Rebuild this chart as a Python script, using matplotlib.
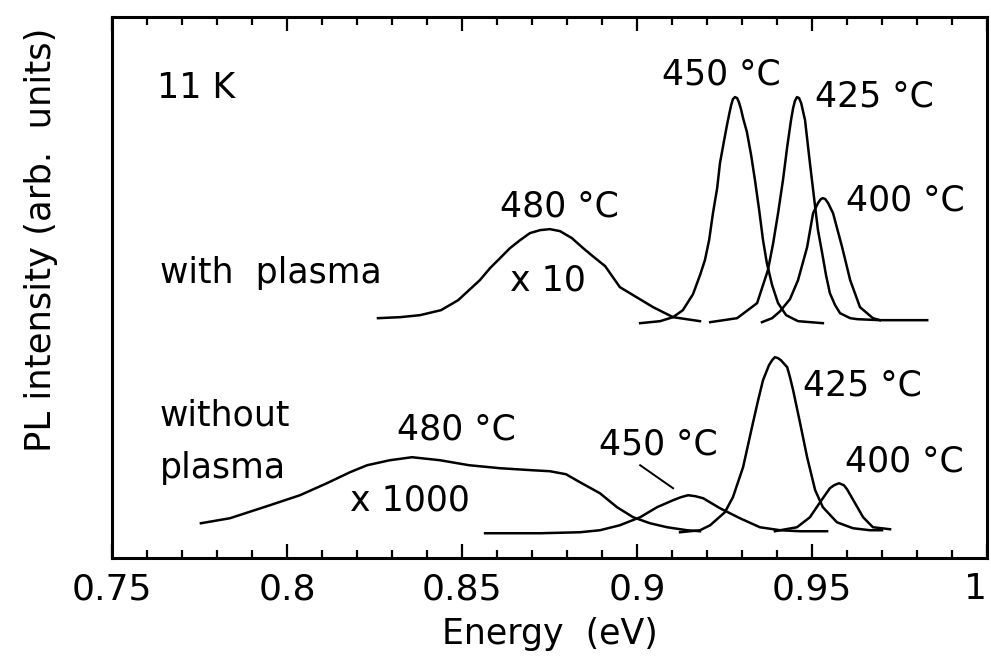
import matplotlib
matplotlib.use('Agg')
import matplotlib.pyplot as plt

plt.rcParams['font.family'] = ['DejaVu Sans']

# with plasma (upper set), energy in eV, intensity in arb. units
e_w480 = [0.8260, 0.8323, 0.8380, 0.8440, 0.8489, 0.8520, 0.8551, 0.8580, 0.8603, 0.8637,
          0.8666, 0.8694, 0.8723, 0.8751, 0.8780, 0.8814, 0.8846, 0.8877, 0.8909, 0.8951,
          0.8989, 0.9046, 0.9103, 0.9180]
i_w480 = [240, 241, 243, 248, 258, 268, 278, 290, 298, 310,
          318, 325, 328, 329, 327, 320, 310, 301, 292, 271,
          263, 251, 241, 237]

e_w450 = [0.9009, 0.9066, 0.9103, 0.9131, 0.9160, 0.9180, 0.9194, 0.9206, 0.9217, 0.9229,
          0.9237, 0.9249, 0.9257, 0.9264, 0.9269, 0.9274, 0.9280, 0.9286, 0.9291, 0.9297,
          0.9303, 0.9314, 0.9326, 0.9337, 0.9349, 0.9360, 0.9371, 0.9386, 0.9403, 0.9426,
          0.9460, 0.9531]
i_w450 = [235, 237, 241, 248, 264, 283, 298, 318, 345, 370,
          395, 418, 433, 445, 453, 459, 461, 460, 456, 449,
          440, 426, 403, 378, 348, 318, 295, 273, 255, 243,
          237, 235]

e_w425 = [0.9209, 0.9286, 0.9343, 0.9374, 0.9389, 0.9403, 0.9417, 0.9429, 0.9440, 0.9446,
          0.9451, 0.9457, 0.9463, 0.9469, 0.9480, 0.9494, 0.9509, 0.9517, 0.9529, 0.9540,
          0.9551, 0.9566, 0.9580, 0.9609, 0.9629, 0.9694, 0.9829]
i_w425 = [236, 240, 255, 288, 315, 345, 378, 411, 438, 450,
          457, 461, 460, 455, 438, 395, 351, 328, 305, 283,
          265, 253, 245, 240, 239, 238, 238]

e_w400 = [0.9357, 0.9386, 0.9409, 0.9437, 0.9460, 0.9486, 0.9503, 0.9517, 0.9525, 0.9531,
          0.9538, 0.9546, 0.9560, 0.9586, 0.9609, 0.9637, 0.9674, 0.9694]
i_w400 = [236, 240, 247, 259, 278, 311, 345, 355, 359, 360,
          359, 355, 345, 311, 278, 251, 240, 238]

# without plasma (lower set)
e_n480 = [0.7754, 0.7837, 0.7951, 0.8037, 0.8114, 0.8180, 0.8229, 0.8294, 0.8357, 0.8437,
          0.8520, 0.8609, 0.8700, 0.8751, 0.8797, 0.8837, 0.8894, 0.8943, 0.8989, 0.9037,
          0.9086, 0.9143, 0.9180]
i_n480 = [35, 40, 53, 63, 75, 86, 93, 98, 101, 98,
          93, 90, 88, 87, 84, 76, 65, 51, 41, 35,
          31, 28, 27]

e_n450 = [0.8566, 0.8723, 0.8837, 0.8894, 0.8951, 0.9009, 0.9057, 0.9103, 0.9125, 0.9146,
          0.9167, 0.9189, 0.9237, 0.9294, 0.9351, 0.9409, 0.9466, 0.9543]
i_n450 = [25, 25, 26, 28, 33, 41, 51, 58, 61, 63,
          62, 60, 50, 40, 31, 28, 27, 27]

e_n425 = [0.9123, 0.9180, 0.9209, 0.9251, 0.9274, 0.9303, 0.9331, 0.9346, 0.9360, 0.9377,
          0.9386, 0.9394, 0.9403, 0.9411, 0.9429, 0.9437, 0.9446, 0.9466, 0.9486, 0.9509,
          0.9531, 0.9571, 0.9617, 0.9666, 0.9700]
i_n425 = [26, 28, 33, 46, 61, 91, 135, 158, 178, 193,
          198, 201, 200, 198, 191, 181, 168, 135, 101, 68,
          51, 36, 30, 28, 28]

e_n400 = [0.9394, 0.9409, 0.9457, 0.9494, 0.9523, 0.9551, 0.9563, 0.9577, 0.9591, 0.9600,
          0.9623, 0.9646, 0.9674, 0.9723]
i_n400 = [27, 28, 31, 41, 56, 70, 73, 75, 73, 69,
          55, 41, 31, 29]

x_ticks = [0.75, 0.8, 0.85, 0.9, 0.95, 1.0]
x_tick_labels = ['0.75', '0.8', '0.85', '0.9', '0.95', '1']

fig = plt.figure(figsize=(9.91, 6.56), dpi=100)
ax = fig.add_axes([0.113, 0.149, 0.883, 0.825])

for e, i in [(e_w480, i_w480), (e_w450, i_w450), (e_w425, i_w425), (e_w400, i_w400),
             (e_n480, i_n480), (e_n450, i_n450), (e_n425, i_n425), (e_n400, i_n400)]:
    ax.plot(e, i, color='black', lw=1.8, solid_joinstyle='round')

ax.set_xlim(0.75, 1.0)
ax.set_ylim(0, 541)

ax.set_xticks(x_ticks)
ax.set_xticklabels(x_tick_labels)
ax.get_xticklabels()[-1].set_horizontalalignment('right')
ax.set_xticks([0.75 + 0.01 * k for k in range(26)], minor=True)
ax.set_yticks([])
ax.tick_params(axis='x', which='both', direction='in', top=True, bottom=True,
               width=1.6, labelsize=26, pad=10)
ax.tick_params(axis='x', which='major', length=10)
ax.tick_params(axis='x', which='minor', length=6)
for s in ax.spines.values():
    s.set_linewidth(2.2)

ax.set_xlabel('Energy  (eV)', fontsize=25, labelpad=8)
fig.text(41 / 991, 1 - 240 / 656, 'PL intensity (arb.  units)', rotation=90,
         ha='center', va='center', fontsize=25.5)

fs = 25
ax.text(0.7629, 470, '11 K', fontsize=fs, ha='left', va='center')
ax.text(0.7637, 285, 'with  plasma', fontsize=fs, ha='left', va='center')
ax.text(0.7637, 143, 'without', fontsize=fs, ha='left', va='center')
ax.text(0.7637, 90, 'plasma', fontsize=fs, ha='left', va='center')

ax.text(0.8777, 352, '480 °C', fontsize=fs, ha='center', va='center')
ax.text(0.8746, 278, 'x 10', fontsize=fs, ha='center', va='center')
ax.text(0.9240, 484, '450 °C', fontsize=fs, ha='center', va='center')
ax.text(0.9677, 462, '425 °C', fontsize=fs, ha='center', va='center')
ax.text(0.9766, 358, '400 °C', fontsize=fs, ha='center', va='center')

ax.text(0.8483, 129, '480 °C', fontsize=fs, ha='center', va='center')
ax.text(0.8351, 58, 'x 1000', fontsize=fs, ha='center', va='center')
ax.text(0.9060, 114, '450 °C', fontsize=fs, ha='center', va='center')
ax.text(0.9643, 173, '425 °C', fontsize=fs, ha='center', va='center')
ax.text(0.9763, 97, '400 °C', fontsize=fs, ha='center', va='center')
ax.plot([0.9009, 0.9103], [93, 70], color='black', lw=1.4)

fig.savefig('out.png', dpi=100)
